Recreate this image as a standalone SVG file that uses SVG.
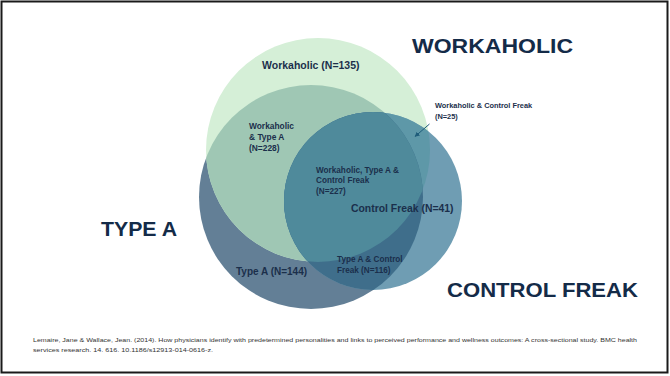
<svg xmlns="http://www.w3.org/2000/svg" width="670" height="376" viewBox="0 0 670 376">
<style>
.t{font-family:"Liberation Sans",Arial,sans-serif;font-weight:bold;fill:#1b2f4b}
.big{font-size:21px;fill:#142b48}
.cite{font-family:"Liberation Sans",Arial,sans-serif;font-size:5.8px;fill:#333}
</style>
<defs>
<clipPath id="cW"><circle cx="318" cy="150" r="112"/></clipPath>
<clipPath id="cT"><circle cx="311" cy="197" r="112"/></clipPath>
<marker id="ah" viewBox="0 0 10 10" refX="9" refY="5" markerWidth="5" markerHeight="5" orient="auto"><path d="M0,0 L10,5 L0,10 z" fill="#1f5d7a"/></marker>
</defs>
<rect x="0" y="0" width="670" height="376" fill="#fff"/>
<rect x="1.5" y="1.5" width="666" height="371" fill="none" stroke="#1a1a1a" stroke-width="2"/>

<g id="typeA">
<circle cx="311" cy="197" r="112" fill="#637f96"/>
</g>
<g id="workaholic">
<circle cx="318" cy="150" r="112" fill="#d5efd7"/>
<g clip-path="url(#cT)"><circle cx="318" cy="150" r="112" fill="#9fc7b4"/></g>
</g>
<g id="controlFreak">
<circle cx="373" cy="201" r="89" fill="#6f9db3"/>
<g clip-path="url(#cW)"><circle cx="373" cy="201" r="89" fill="#5e98a8"/></g>
<g clip-path="url(#cT)"><circle cx="373" cy="201" r="89" fill="#3f6e8b"/></g>
<g clip-path="url(#cT)"><g clip-path="url(#cW)"><circle cx="373" cy="201" r="89" fill="#4f8a9b"/></g></g>
</g>

<g id="connectors">
<line x1="429.5" y1="124" x2="415" y2="136.5" stroke="#1f5d7a" stroke-width="1" marker-end="url(#ah)"/>
</g>

<g id="labels">
<text class="t big" x="412" y="53" textLength="161" lengthAdjust="spacingAndGlyphs">WORKAHOLIC</text>
<text class="t big" x="101" y="236" textLength="76" lengthAdjust="spacingAndGlyphs">TYPE A</text>
<text class="t big" x="447" y="297" textLength="191" lengthAdjust="spacingAndGlyphs">CONTROL FREAK</text>

<text class="t" x="262" y="69" font-size="10.5">Workaholic (N=135)</text>
<text class="t" font-size="8.4"><tspan x="249" y="129">Workaholic</tspan><tspan x="249" y="140">&amp; Type A</tspan><tspan x="249" y="150.7">(N=228)</tspan></text>
<text class="t" font-size="8.2"><tspan x="316" y="172.7">Workaholic,  Type A &amp;</tspan><tspan x="316" y="183.3">Control Freak</tspan><tspan x="316" y="194">(N=227)</tspan></text>
<text class="t" x="351" y="212" font-size="10.4">Control Freak (N=41)</text>
<text class="t" x="236" y="275" font-size="10">Type A (N=144)</text>
<text class="t" font-size="8.2"><tspan x="337" y="262.3">Type A &amp; Control</tspan><tspan x="337" y="272.7">Freak (N=116)</tspan></text>
<text class="t" font-size="7.4"><tspan x="435" y="107.7">Workaholic &amp; Control Freak</tspan><tspan x="435" y="118.7">(N=25)</tspan></text>
</g>

<g id="citation">
<text class="cite" x="33" y="342" textLength="604" lengthAdjust="spacingAndGlyphs">Lemaire, Jane &amp; Wallace, Jean. (2014). How physicians identify with predetermined personalities and links to perceived performance and wellness outcomes: A cross-sectional study. BMC health</text>
<text class="cite" x="33" y="351.5" textLength="180" lengthAdjust="spacingAndGlyphs">services research. 14. 616. 10.1186/s12913-014-0616-z.</text>
</g>
</svg>
